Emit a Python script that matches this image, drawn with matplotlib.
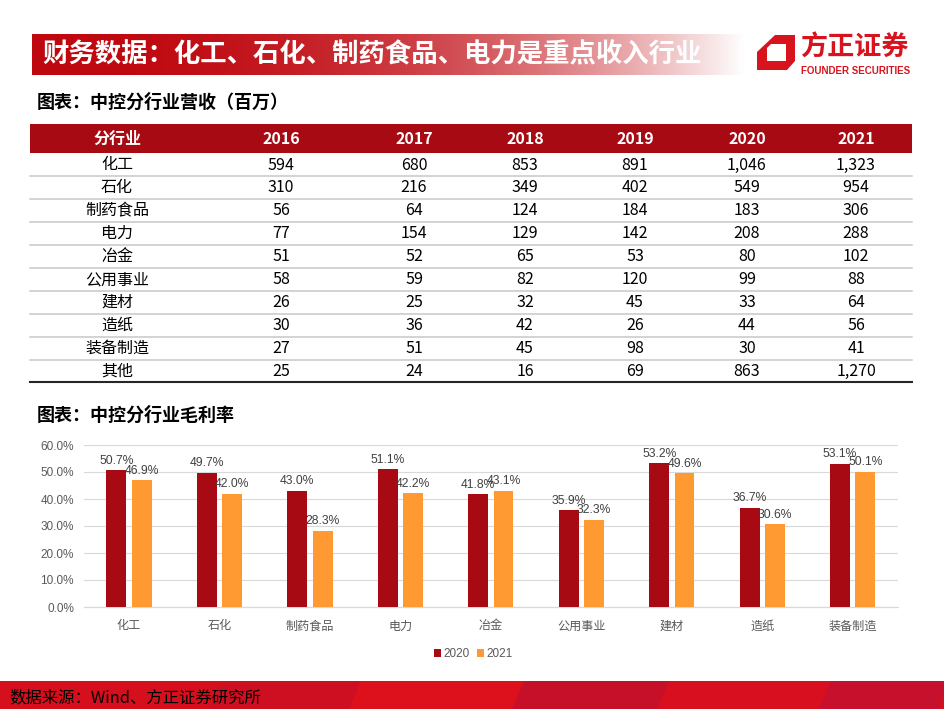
import numpy as np
import matplotlib
matplotlib.use('Agg')
import matplotlib.pyplot as plt
from matplotlib.patches import Rectangle, Polygon
from matplotlib.ticker import FuncFormatter

plt.rcParams['font.family'] = ['Liberation Sans', 'Noto Sans CJK SC', 'DejaVu Sans']
CJK = ['Noto Sans CJK SC', 'DejaVu Sans']

# ---- data: revenue table (million) ----
industries = ['化工', '石化', '制药食品', '电力', '冶金', '公用事业', '建材', '造纸', '装备制造', '其他']
years = ['2016', '2017', '2018', '2019', '2020', '2021']
rev_2016 = [594, 310, 56, 77, 51, 58, 26, 30, 27, 25]
rev_2017 = [680, 216, 64, 154, 52, 59, 25, 36, 51, 24]
rev_2018 = [853, 349, 124, 129, 65, 82, 32, 42, 45, 16]
rev_2019 = [891, 402, 184, 142, 53, 120, 45, 26, 98, 69]
rev_2020 = [1046, 549, 183, 208, 80, 99, 33, 44, 30, 863]
rev_2021 = [1323, 954, 306, 288, 102, 88, 64, 56, 41, 1270]
rev_cols = [rev_2016, rev_2017, rev_2018, rev_2019, rev_2020, rev_2021]

# ---- data: gross margin chart (%) ----
margin_cats = ['化工', '石化', '制药食品', '电力', '冶金', '公用事业', '建材', '造纸', '装备制造']
margin_2020 = [50.7, 49.7, 43.0, 51.1, 41.8, 35.9, 53.2, 36.7, 53.1]
margin_2021 = [46.9, 42.0, 28.3, 42.2, 43.1, 32.3, 49.6, 30.6, 50.1]

RED = '#A80A14'
ORANGE = '#FF9A33'
LOGO_RED = '#D7141E'

fig = plt.figure(figsize=(9.44, 7.09), dpi=100)
fig.patch.set_facecolor('white')

# background canvas in pixel coordinates
bg = fig.add_axes([0, 0, 1, 1])
bg.axis('off')

# title banner with fade to white
t = np.linspace(0, 1, 400)
mix = t ** 2.4
base = np.array([0.75, 0.03, 0.06])
grad = base[None, :] * (1 - mix[:, None]) + mix[:, None]
bg.imshow(grad[None, :, :], extent=[32, 745, 75, 34], aspect='auto', interpolation='bilinear')
bg.text(42, 55, '财务数据：化工、石化、制药食品、电力是重点收入行业', color='white',
        fontsize=19, fontweight='bold', family=CJK, va='center', ha='left')

# logo
bg.add_patch(Polygon([(775, 35), (795, 35), (795, 61), (787, 70), (757, 70), (757, 52)],
                     closed=True, color=LOGO_RED, lw=0))
bg.add_patch(Polygon([(771, 44), (786, 44), (786, 61), (767, 61), (767, 48)],
                     closed=True, color='white', lw=0))
bg.text(800, 48, '方正证券', color=LOGO_RED, fontsize=19.5, fontweight='bold',
        family=CJK, va='center', ha='left')
bg.text(801, 70.5, 'FOUNDER SECURITIES', color=LOGO_RED, fontsize=7, fontweight='bold',
        family=['Liberation Sans'], va='center', ha='left')

# subtitles
bg.text(37, 102, '图表：中控分行业营收（百万）', fontsize=13, fontweight='bold',
        family=CJK, va='center', ha='left', color='black')
bg.text(37, 415, '图表：中控分行业毛利率', fontsize=13, fontweight='bold',
        family=CJK, va='center', ha='left', color='black')

# revenue table
tab_l, tab_r = 30, 912
col_x = [117, 281, 414, 525, 635, 747, 856]
bg.add_patch(Rectangle((tab_l, 124), tab_r - tab_l, 29, color=RED, lw=0))
for cx, h in zip(col_x, ['分行业'] + years):
    bg.text(cx, 138.5, h, color='white', fontsize=11.5, fontweight='bold',
            family=CJK, ha='center', va='center')

row_y0, row_h = 165, 22.9
for i, name in enumerate(industries):
    y = row_y0 + i * row_h
    bg.text(col_x[0], y, name, fontsize=11.5, family=CJK, ha='center', va='center', color='black')
    for j, col in enumerate(rev_cols):
        bg.text(col_x[j + 1], y, f'{col[i]:,}', fontsize=11.5, family=CJK,
                ha='center', va='center', color='black')
    if i < len(industries) - 1:
        bg.plot([tab_l, tab_r], [y + 11.3, y + 11.3], color='#C8C8C8', lw=1.1)
    else:
        bg.plot([tab_l, tab_r], [y + 10.5, y + 10.5], color='#262626', lw=1.5)

# footer band
bg.add_patch(Rectangle((0, 681), 944, 28, color='#D60F1C', lw=0))
for x0, x1, c in [(355, 518, '#DD111C'), (518, 663, '#C6102A'), (663, 825, '#D80F1E'),
                  (825, 944, '#C7102B'), (215, 355, '#CE0F22')]:
    bg.add_patch(Polygon([(x0 + 6, 681), (x1 + 6, 681), (x1 - 6, 709), (x0 - 6, 709)],
                         closed=True, color=c, lw=0))
bg.text(9, 698, '数据来源：Wind、方正证券研究所', fontsize=11.8, style='italic',
        family=CJK, color='black', ha='left', va='center')

bg.set_xlim(0, 944)
bg.set_ylim(709, 0)

# gross margin bar chart
ax = fig.add_axes([83.7 / 944, 102 / 709, 814.3 / 944, 162 / 709])
ax.set_facecolor('none')
x = np.arange(len(margin_cats))
b1 = ax.bar(x - 0.14, margin_2020, 0.22, color=RED, label='2020', zorder=3)
b2 = ax.bar(x + 0.14, margin_2021, 0.22, color=ORANGE, label='2021', zorder=3)
ax.bar_label(b1, labels=[f'{v:.1f}%' for v in margin_2020], padding=2.5,
             fontsize=8.7, color='#404040')
ax.bar_label(b2, labels=[f'{v:.1f}%' for v in margin_2021], padding=2.5,
             fontsize=8.7, color='#404040')

ax.set_xlim(-0.5, len(margin_cats) - 0.5)
ax.set_ylim(0, 60)
ax.set_yticks(np.arange(0, 61, 10))
ax.yaxis.set_major_formatter(FuncFormatter(lambda v, _: f'{v:.1f}%'))
ax.set_xticks(x)
ax.set_xticklabels(margin_cats, family=CJK, fontsize=8.7)
ax.grid(axis='y', color='#D9D9D9', lw=0.8, zorder=0)
ax.set_axisbelow(True)
for s in ['top', 'right', 'left']:
    ax.spines[s].set_visible(False)
ax.spines['bottom'].set_color('#D9D9D9')
ax.spines['bottom'].set_linewidth(0.9)
ax.tick_params(axis='both', length=0, colors='#595959')
ax.tick_params(axis='y', labelsize=8.5, pad=7)
ax.tick_params(axis='x', pad=9)

fig.legend(handles=[b1, b2], loc='center', bbox_to_anchor=(473 / 944, 1 - 654 / 709),
           ncol=2, frameon=False, fontsize=8.5, handlelength=0.6, handleheight=0.6,
           handletextpad=0.2, columnspacing=0.6, labelcolor='#595959')

fig.savefig('out.png', dpi=100)
